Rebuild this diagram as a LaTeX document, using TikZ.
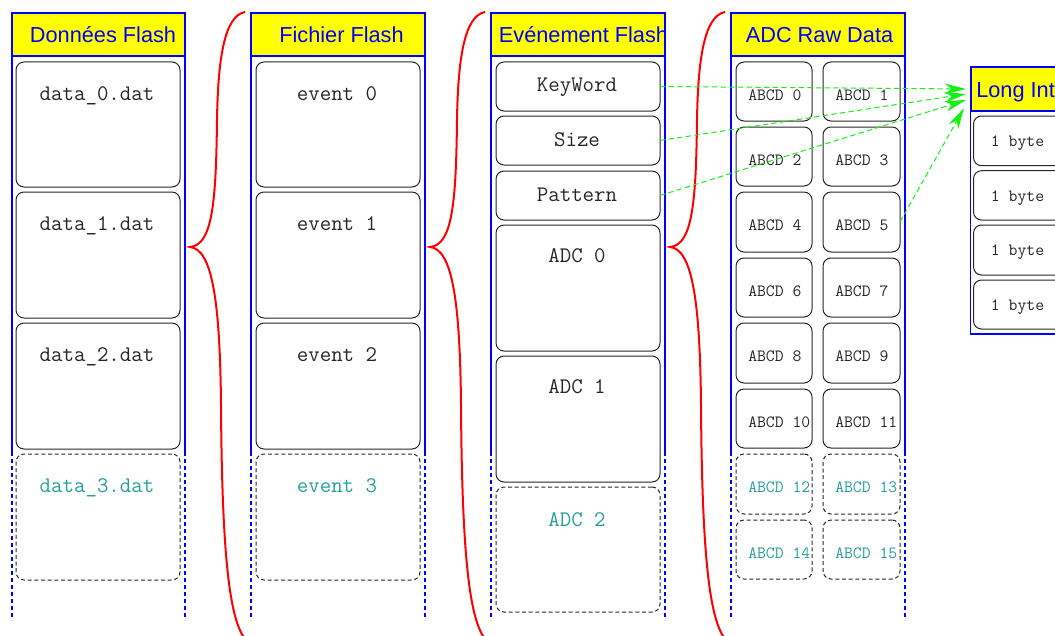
\documentclass[tikz,border=0pt]{standalone}
\usepackage{fontspec}
\newfontfamily\hdfont{Liberation Sans}
\usetikzlibrary{arrows.meta}
\definecolor{teal2}{RGB}{38,158,158}
\definecolor{grn}{RGB}{20,240,20}
\definecolor{ylw}{RGB}{255,255,0}
\definecolor{hblue}{RGB}{0,0,255}
\newcommand\bxx[6]{\node[#6, anchor=north west, minimum width={(#4-#2)*0.75pt}, minimum height={(#5-#3)*0.75pt}] (#1) at (#2,#3) {};}
\tikzset{
 fbox/.style={draw=black!85, line width=0.75pt, rounded corners=6pt, inner sep=0pt, outer sep=0pt},
 dbox/.style={fbox, dash pattern=on 3pt off 2pt},
 hdr/.style={draw=hblue, fill=ylw, line width=1.5pt, inner sep=0pt, outer sep=0pt},
 htxt/.style={font=\hdfont\fontsize{16.3}{18}\selectfont, text=hblue, inner sep=0pt, anchor=base},
 btxt/.style={font=\ttfamily\fontsize{16.7}{18}\selectfont, text=black!85, inner sep=0pt, anchor=base},
 stxt/.style={font=\ttfamily\fontsize{12.9}{14}\selectfont, text=black!85, inner sep=0pt, anchor=base west},
 ghost/.style={text=teal2},
 colsolid/.style={draw=hblue, line width=1.05pt},
 coldash/.style={draw=hblue, line width=1.05pt, dash pattern=on 3pt off 2.25pt},
 brace/.style={draw=red, line width=1.5pt},
 link/.style={draw=grn, line width=0.75pt, dash pattern=on 4pt off 2.5pt, -{Stealth[length=16pt,width=8pt,inset=5pt]}},
}
\begin{document}
\begin{tikzpicture}[x=0.75pt,y=-0.75pt]
\useasboundingbox (0,0) rectangle (1055,635);
\clip (0,0) rectangle (1055,635);

% ---------- column lines ----------
\draw[colsolid] (12,56) -- (12,452);   \draw[coldash] (12,452) -- (12,620);
\draw[colsolid] (185,56) -- (185,452); \draw[coldash] (185,452) -- (185,620);
\draw[colsolid] (251,56) -- (251,452); \draw[coldash] (251,452) -- (251,620);
\draw[colsolid] (425,56) -- (425,452); \draw[coldash] (425,452) -- (425,620);
\draw[colsolid] (491,56) -- (491,452); \draw[coldash] (491,452) -- (491,620);
\draw[colsolid] (665,56) -- (665,452); \draw[coldash] (665,452) -- (665,620);
\draw[colsolid] (731,56) -- (731,452); \draw[coldash] (731,452) -- (731,620);
\draw[colsolid] (905,56) -- (905,452); \draw[coldash] (905,452) -- (905,620);
\draw[colsolid] (970.7,111) rectangle (1150,334);

% ---------- headers ----------
\bxx{h1}{12}{13}{185}{56}{hdr}
\node[htxt] (h1t) at (103,43) {Données Flash};
\bxx{h2}{251}{13}{425}{56}{hdr}
\node[htxt] (h2t) at (341.5,43) {Fichier Flash};
\bxx{h3}{491}{13}{665}{56}{hdr}
\begin{scope}
\clip (492,13) rectangle (664,56);
\node[htxt] (h3t) at (583.5,43) {Evénement Flash};
\end{scope}
\bxx{h4}{731}{13}{905}{56}{hdr}
\node[htxt] (h4t) at (819.5,43) {ADC Raw Data};
\bxx{h5}{970.7}{67}{1150}{111}{hdr}
\node[htxt, anchor=base west] (h5t) at (976,97) {Long Int};

% ---------- column 1 ----------
\bxx{d0}{16}{62}{180}{187}{fbox}
\node[btxt] (d0t) at (97,100) {data\_0.dat};
\bxx{d1}{16}{192}{180}{318}{fbox}
\node[btxt] (d1t) at (97,230) {data\_1.dat};
\bxx{d2}{16}{323}{180}{449}{fbox}
\node[btxt] (d2t) at (97,361) {data\_2.dat};
\bxx{d3}{16}{454}{180}{580}{dbox}
\node[btxt,ghost] (d3t) at (97,492) {data\_3.dat};

% ---------- column 2 ----------
\bxx{e0}{256}{62}{420}{187}{fbox}
\node[btxt] (e0t) at (337,100) {event 0};
\bxx{e1}{256}{192}{420}{318}{fbox}
\node[btxt] (e1t) at (337,230) {event 1};
\bxx{e2}{256}{323}{420}{449}{fbox}
\node[btxt] (e2t) at (337,361) {event 2};
\bxx{e3}{256}{454}{420}{580}{dbox}
\node[btxt,ghost] (e3t) at (337,492) {event 3};

% ---------- column 3 ----------
\bxx{kw}{496}{62}{660}{111}{fbox}
\node[btxt] (kwt) at (577,91.5) {KeyWord};
\bxx{sz}{496}{116}{660}{165}{fbox}
\node[btxt] (szt) at (577,146) {Size};
\bxx{pt}{496}{171}{660}{220}{fbox}
\node[btxt] (ptt) at (577,201) {Pattern};
\bxx{a0}{496}{225}{660}{351}{fbox}
\node[btxt] (a0t) at (577,262) {ADC 0};
\bxx{a1}{496}{356}{660}{482}{fbox}
\node[btxt] (a1t) at (577,393) {ADC 1};
\bxx{a2}{496}{487}{660}{612}{dbox}
\node[btxt,ghost] (a2t) at (577,526) {ADC 2};

% ---------- column 4 ----------
\bxx{r0}{736}{62}{812}{121}{fbox}   \node[stxt] (r0t) at (748,100.5) {ABCD 0};
\bxx{r1}{823}{62}{900}{121}{fbox}   \node[stxt] (r1t) at (835,100.5) {ABCD 1};
\bxx{r2}{736}{127}{812}{186}{fbox}  \node[stxt] (r2t) at (748,165.5) {ABCD 2};
\bxx{r3}{823}{127}{900}{186}{fbox}  \node[stxt] (r3t) at (835,165.5) {ABCD 3};
\bxx{r4}{736}{192}{812}{252}{fbox}  \node[stxt] (r4t) at (748,230.5) {ABCD 4};
\bxx{r5}{823}{192}{900}{252}{fbox}  \node[stxt] (r5t) at (835,230.5) {ABCD 5};
\bxx{r6}{736}{258}{812}{317}{fbox}  \node[stxt] (r6t) at (748,296.5) {ABCD 6};
\bxx{r7}{823}{258}{900}{317}{fbox}  \node[stxt] (r7t) at (835,296.5) {ABCD 7};
\bxx{r8}{736}{323}{812}{383}{fbox}  \node[stxt] (r8t) at (748,361.5) {ABCD 8};
\bxx{r9}{823}{323}{900}{383}{fbox}  \node[stxt] (r9t) at (835,361.5) {ABCD 9};
\bxx{r10}{736}{389}{812}{448}{fbox} \node[stxt] (r10t) at (748,427.5) {ABCD 10};
\bxx{r11}{823}{389}{900}{448}{fbox} \node[stxt] (r11t) at (835,427.5) {ABCD 11};
\bxx{r12}{736}{454}{812}{514}{dbox} \node[stxt,ghost] (r12t) at (748,492.5) {ABCD 12};
\bxx{r13}{823}{454}{900}{514}{dbox} \node[stxt,ghost] (r13t) at (835,492.5) {ABCD 13};
\bxx{r14}{736}{520}{812}{579}{dbox} \node[stxt,ghost] (r14t) at (748,558.5) {ABCD 14};
\bxx{r15}{823}{520}{900}{579}{dbox} \node[stxt,ghost] (r15t) at (835,558.5) {ABCD 15};

% ---------- column 5 ----------
\bxx{b0}{973.5}{116}{1146}{165.7}{fbox} \node[stxt] (b0t) at (990.7,146.5) {1 byte};
\bxx{b1}{973.5}{170.7}{1146}{220}{fbox} \node[stxt] (b1t) at (990.7,201) {1 byte};
\bxx{b2}{973.5}{225}{1146}{275}{fbox}   \node[stxt] (b2t) at (990.7,255.5) {1 byte};
\bxx{b3}{973.5}{280}{1146}{329}{fbox}   \node[stxt] (b3t) at (990.7,310.5) {1 byte};

% ---------- braces ----------
\foreach \s in {0,240,480}{
  \draw[brace] (245+\s,12) .. controls (224+\s,16) and (218+\s,60) .. (217+\s,120)
     .. controls (216+\s,205) and (212+\s,245) .. (190+\s,247)
     .. controls (212+\s,249) and (220+\s,300) .. (221+\s,405)
     .. controls (222+\s,560) and (230+\s,622) .. (246+\s,640);
}

% ---------- links ----------
\coordinate (t1) at (966,89);
\coordinate (t2) at (966,94);
\coordinate (t3) at (966,100);
\coordinate (t4) at (964,108);
\draw[link] (kw.east) -- (t1);
\draw[link] (sz.east) -- (t2);
\draw[link] (pt.east) -- (t3);
\draw[link] (r5.east) -- (t4);
\end{tikzpicture}
\end{document}
